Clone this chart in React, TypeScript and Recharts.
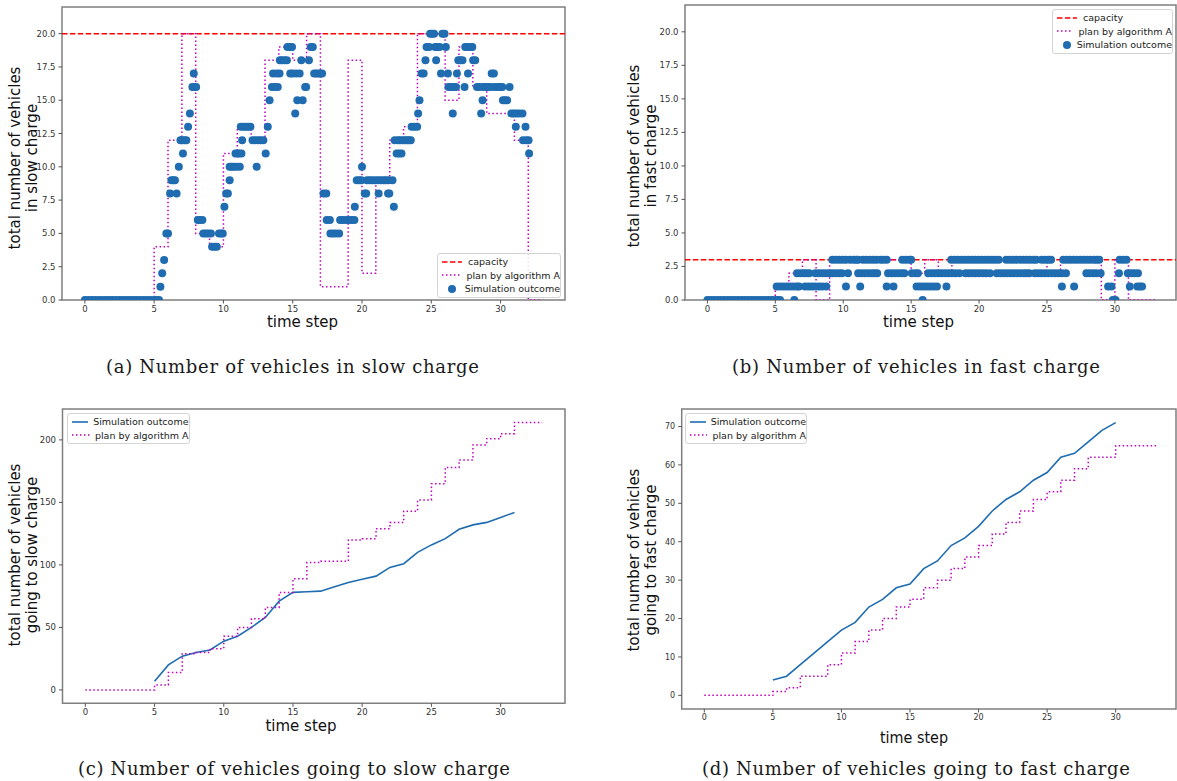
import React from 'react';
import { ComposedChart, Line, Scatter, XAxis, YAxis, ReferenceLine, ReferenceArea, Legend } from 'recharts';

// time axis shared by the four panels
const timeSteps = [0, 1, 2, 3, 4, 5, 6, 7, 8, 9, 10, 11, 12, 13, 14, 15, 16, 17, 18, 19, 20, 21, 22, 23, 24, 25, 26, 27, 28, 29, 30, 31, 32, 33];
const timeTicks = [0, 5, 10, 15, 20, 25, 30];
const loadTicks = [0, 2.5, 5, 7.5, 10, 12.5, 15, 17.5, 20];
const goSlowTicks = [0, 50, 100, 150, 200];
const goFastTicks = [0, 10, 20, 30, 40, 50, 60, 70];

const slowCapacity = 20;
const fastCapacity = 3;

// plan by algorithm A (value held from step t to t+1)
const planSlow = [0, 0, 0, 0, 0, 4, 12, 20, 5, 4, 11, 13, 12, 18, 19, 18, 20, 1, 1, 18, 2, 9, 12, 13, 20, 20, 15, 19, 16, 14, 14, 12, 0, 0];
const planFast = [0, 0, 0, 0, 0, 1, 2, 3, 0, 3, 3, 3, 3, 3, 3, 2, 3, 2, 3, 3, 3, 3, 3, 3, 3, 2, 3, 3, 3, 0, 3, 0, 0, 0];
const planGoSlow = [0, 0, 0, 0, 0, 4, 14, 29, 30, 33, 43, 50, 57, 66, 78, 89, 102, 103, 103, 120, 121, 129, 134, 143, 152, 165, 178, 184, 196, 201, 205, 214, 214, 214];
const planGoFast = [0, 0, 0, 0, 0, 1, 2, 5, 5, 8, 11, 14, 17, 20, 23, 25, 28, 30, 33, 36, 39, 42, 45, 48, 51, 53, 56, 59, 62, 62, 65, 65, 65, 65];

// simulation outcome, cumulative vehicles
const goSlowSimSteps = [5, 6, 7, 8, 9, 10, 11, 12, 13, 14, 15, 16, 17, 18, 19, 20, 21, 22, 23, 24, 25, 26, 27, 28, 29, 30, 31];
const goSlowSim = [7, 20, 27, 30, 32, 39, 43, 50, 58, 71, 78, 78.5, 79, 82.5, 86, 88.5, 91, 98, 101, 110, 116, 121, 128.5, 132, 134, 138, 142];
const goFastSimSteps = [5, 6, 7, 8, 9, 10, 11, 12, 13, 14, 15, 16, 17, 18, 19, 20, 21, 22, 23, 24, 25, 26, 27, 28, 29, 30];
const goFastSim = [4, 5, 8, 11, 14, 17, 19, 23, 25, 28, 29, 33, 35, 39, 41, 44, 48, 51, 53, 56, 58, 62, 63, 66, 69, 71];

// simulation outcome, vehicles in charge [time, count]
const slowSimPoints: [number, number][] = [
  [0, 0], [0.25, 0], [0.5, 0], [0.75, 0], [1, 0], [1.25, 0], [1.5, 0], [1.75, 0], [2, 0], [2.25, 0], [2.5, 0], [2.75, 0],
  [3, 0], [3.25, 0], [3.5, 0], [3.75, 0], [4, 0], [4.25, 0], [4.5, 0], [4.75, 0], [5, 0], [5.2, 0], [5.35, 0],
  [5.45, 1], [5.58, 2], [5.72, 3], [5.88, 5], [6.0, 5],
  [6.15, 8], [6.25, 9], [6.38, 9], [6.5, 9], [6.62, 8], [6.78, 10], [6.9, 12], [7.02, 12], [7.08, 11], [7.18, 12], [7.32, 12],
  [7.45, 13], [7.58, 14], [7.76, 16], [7.86, 17], [7.95, 16], [8.03, 16],
  [8.15, 6], [8.3, 6], [8.48, 6], [8.55, 5], [8.72, 5], [8.9, 5], [9.1, 5], [9.18, 4], [9.35, 4], [9.52, 4], [9.68, 5], [9.85, 5], [9.95, 5],
  [10.07, 7], [10.2, 8], [10.32, 8], [10.45, 9], [10.45, 10], [10.6, 10], [10.75, 10], [10.87, 11], [10.95, 10], [11.02, 11], [11.12, 11],
  [11.18, 10], [11.3, 11], [11.35, 12], [11.25, 13], [11.45, 13], [11.6, 13], [11.78, 13], [11.95, 13], [12.1, 12], [12.28, 12], [12.4, 10],
  [12.5, 12], [12.68, 12], [12.88, 12], [13.05, 11], [13.2, 13], [13.33, 15], [13.5, 16], [13.58, 17], [13.72, 16], [13.85, 17], [13.92, 16],
  [14.05, 17], [14.07, 18], [14.22, 18], [14.4, 18], [14.58, 18], [14.62, 19], [14.78, 19], [14.95, 19], [14.82, 17], [15.0, 17], [15.18, 14],
  [15.25, 17], [15.33, 15], [15.5, 17], [15.62, 18], [15.72, 15], [15.9, 16], [15.97, 16], [16.17, 18], [16.3, 19], [16.45, 19], [16.55, 17],
  [16.7, 17], [16.85, 17], [17.0, 17], [17.12, 17],
  [17.22, 8], [17.42, 8], [17.45, 6], [17.68, 6], [17.72, 5], [17.92, 5], [18.12, 5], [18.35, 5], [18.42, 6], [18.62, 6], [18.85, 6],
  [19.05, 6], [19.25, 6], [19.45, 6], [19.48, 7], [19.62, 9], [19.8, 9], [19.95, 9], [20.0, 10], [20.2, 8], [20.3, 8], [20.36, 9],
  [20.55, 9], [20.75, 9], [20.95, 9], [21.15, 9], [21.2, 8], [21.35, 9], [21.55, 9], [21.72, 9], [21.88, 8], [21.97, 8], [21.9, 9],
  [22.2, 9], [22.3, 7], [22.36, 12], [22.5, 11], [22.6, 12], [22.68, 11], [22.85, 11], [22.75, 12], [22.95, 12], [23.1, 12], [23.25, 12],
  [23.4, 12], [23.52, 12], [23.58, 13], [23.78, 13], [23.98, 13], [24.05, 14], [24.15, 15], [24.3, 17], [24.45, 17], [24.58, 18],
  [24.66, 19], [24.85, 19], [24.92, 20], [25.06, 20], [25.2, 20], [25.28, 19], [25.35, 18], [25.45, 19], [25.6, 19], [25.7, 17],
  [25.8, 20], [25.96, 20], [26.05, 19], [26.2, 17], [26.24, 16], [26.42, 16], [26.55, 14], [26.62, 16], [26.78, 16], [26.85, 17],
  [26.95, 18], [27.1, 18], [27.25, 18], [27.4, 16], [27.45, 19], [27.6, 19], [27.65, 17], [27.8, 19], [27.96, 19], [28.02, 18],
  [28.17, 18], [28.3, 16], [28.48, 16], [28.6, 14], [28.7, 15], [28.76, 16], [28.95, 16], [29.12, 16], [29.3, 16], [29.36, 17],
  [29.52, 17], [29.6, 16], [29.8, 16], [30.0, 16], [30.12, 16], [30.17, 15], [30.32, 15], [30.47, 15], [30.65, 16], [30.78, 14],
  [30.95, 14], [31.1, 13], [31.15, 14], [31.35, 14], [31.58, 14], [31.62, 12], [31.8, 13], [31.86, 12], [32.02, 12], [32.06, 11],
];

const fastSimPoints: [number, number][] = [
  [0, 0], [0.25, 0], [0.5, 0], [0.75, 0], [1, 0], [1.25, 0], [1.5, 0], [1.75, 0], [2, 0], [2.25, 0], [2.5, 0], [2.75, 0],
  [3, 0], [3.25, 0], [3.5, 0], [3.75, 0], [4, 0], [4.25, 0], [4.5, 0], [4.75, 0], [5, 0], [5.2, 0], [5.35, 0],
  [5.1, 1], [5.35, 1], [5.6, 1], [5.85, 1], [6.1, 1], [6.35, 1], [6.6, 1], [6.75, 1], [6.4, 0],
  [6.6, 2], [6.85, 2], [7.1, 2], [7.3, 2], [7.5, 2],
  [7.2, 1], [7.45, 1], [7.7, 1], [7.95, 1], [8.2, 1], [8.45, 1], [8.75, 1],
  [7.95, 2], [8.2, 2], [8.45, 2], [8.7, 2], [8.95, 2], [9.2, 2], [9.45, 2], [9.7, 2], [9.9, 2],
  [9.2, 3], [9.45, 3], [9.7, 3], [9.95, 3], [10.2, 3], [10.5, 3], [10.75, 3], [10.95, 3], [11.1, 3],
  [10.2, 1], [10.35, 2], [11.25, 1],
  [11.1, 2], [11.35, 2], [11.6, 2], [11.85, 2], [12.1, 2], [12.3, 2], [12.5, 2],
  [11.45, 3], [11.7, 3], [11.95, 3], [12.2, 3], [12.45, 3], [12.75, 3], [12.95, 3], [13.2, 3],
  [13.2, 1], [13.7, 1],
  [13.3, 2], [13.55, 2], [13.8, 2], [14.05, 2], [14.3, 2], [14.5, 2],
  [14.35, 3], [14.6, 3], [14.85, 3], [15.0, 3],
  [15.05, 2], [15.3, 2], [15.5, 2],
  [15.4, 1], [15.65, 1], [15.9, 1], [16.15, 1], [16.4, 1], [16.65, 1], [16.9, 1], [15.85, 0],
  [16.25, 2], [16.5, 2], [16.75, 2], [17.0, 2], [17.25, 2], [17.5, 2], [17.75, 2], [18.0, 2], [18.25, 2], [18.55, 2],
  [17.6, 1],
  [17.95, 3], [18.2, 3], [18.45, 3], [18.7, 3], [18.95, 3], [19.2, 3], [19.45, 3], [19.7, 3], [19.95, 3], [20.2, 3],
  [20.45, 3], [20.7, 3], [20.95, 3], [21.2, 3], [21.45, 3],
  [19.0, 2], [19.25, 2], [19.5, 2], [19.75, 2], [20.0, 2], [20.25, 2], [20.5, 2], [20.8, 2],
  [21.3, 2], [21.55, 2], [21.8, 2], [22.05, 2], [22.3, 2], [22.55, 2], [22.8, 2], [23.05, 2], [23.3, 2], [23.5, 2], [23.7, 2],
  [22.0, 3], [22.25, 3], [22.5, 3], [22.75, 3], [23.0, 3], [23.25, 3], [23.5, 3], [23.75, 3], [24.0, 3], [24.2, 3],
  [24.1, 2], [24.35, 2], [24.6, 2], [24.85, 2], [25.1, 2], [25.35, 2], [25.6, 2], [25.85, 2], [26.1, 2], [26.4, 2],
  [24.6, 3], [24.85, 3], [25.1, 3], [25.3, 3],
  [26.1, 1], [27.0, 1],
  [26.2, 3], [26.45, 3], [26.7, 3], [26.95, 3], [27.2, 3], [27.45, 3], [27.7, 3], [27.95, 3], [28.2, 3], [28.45, 3], [28.65, 3], [28.85, 3],
  [27.9, 2], [28.15, 2], [28.4, 2], [28.65, 2], [28.95, 2],
  [29.5, 1], [29.75, 1], [29.85, 0], [30.05, 0],
  [30.3, 2], [30.35, 3], [30.6, 3], [30.85, 3],
  [30.95, 2], [31.2, 2], [31.45, 2], [31.7, 2],
  [31.1, 1], [31.65, 1], [31.85, 1], [32.0, 1],
];

const BLUE = '#1f6cb0';
const MAGENTA = '#bf00bf';
const RED = '#ff0000';
const FRAME = '#7f7f7f';
const FONT = '"DejaVu Sans", sans-serif';

const series = (ts: number[], vs: number[]) => ts.map((t, i) => ({ t, v: vs[i] }));
const points = (ps: [number, number][]) => ps.map(([t, v]) => ({ t, v }));

const tickStyle = { fontSize: 8.5, fill: '#333', fontFamily: FONT };
const dot = (p: any) => <circle cx={p.cx} cy={p.cy} r={4} fill={BLUE} />;

type Row = { label: string; kind: 'cap' | 'plan' | 'dot' | 'line' };

const Marker = ({ kind }: { kind: Row['kind'] }) => {
  if (kind === 'dot') return <circle cx={11} cy={5} r={4} fill={BLUE} />;
  if (kind === 'cap') return <line x1={1} x2={21} y1={5} y2={5} stroke={RED} strokeWidth={1.5} strokeDasharray="5.5 2.4" />;
  if (kind === 'plan') return <line x1={1} x2={21} y1={5} y2={5} stroke={MAGENTA} strokeWidth={1.5} strokeDasharray="1.5 2.5" />;
  return <line x1={1} x2={21} y1={5} y2={5} stroke={BLUE} strokeWidth={1.6} />;
};

const LegendBox = ({ rows, width }: { rows: Row[]; width: number }) => (
  <div
    style={{
      width,
      boxSizing: 'border-box',
      border: '1px solid #d4d4d4',
      borderRadius: 3,
      background: 'rgba(255,255,255,0.85)',
      padding: '1px 0 1px 3px',
      fontFamily: FONT,
      fontSize: 9.5,
      color: '#222',
    }}
  >
    {rows.map((r) => (
      <div key={r.label} style={{ display: 'flex', alignItems: 'center', height: 13.5 }}>
        <svg width={22} height={10}>
          <Marker kind={r.kind} />
        </svg>
        <span style={{ marginLeft: 5, whiteSpace: 'nowrap' }}>{r.label}</span>
      </div>
    ))}
  </div>
);

const chargeRows: Row[] = [
  { label: 'capacity', kind: 'cap' },
  { label: 'plan by algorithm A', kind: 'plan' },
  { label: 'Simulation outcome', kind: 'dot' },
];
const goingRows: Row[] = [
  { label: 'Simulation outcome', kind: 'line' },
  { label: 'plan by algorithm A', kind: 'plan' },
];

const Frame = ({ x, y }: { x: number[]; y: number[] }) => (
  <ReferenceArea x1={x[0]} x2={x[1]} y1={y[0]} y2={y[1]} fill="none" stroke={FRAME} strokeWidth={1.5} ifOverflow="visible" />
);

const App = () => {
  const slowPlan = series(timeSteps, planSlow);
  const fastPlan = series(timeSteps, planFast);
  const goSlowPlan = series(timeSteps, planGoSlow);
  const goFastPlan = series(timeSteps, planGoFast);
  const goSlowOut = series(goSlowSimSteps, goSlowSim);
  const goFastOut = series(goFastSimSteps, goFastSim);

  const xA = [-1.65, 34.65];
  const xB = [-1.65, 34.5];
  const xD = [-1.65, 34.4];
  const yLoad = [0, 22];
  const yGoSlow = [-10.7, 224.7];
  const yGoFast = [-3.55, 74.55];

  const xAxisProps = {
    type: 'number' as const,
    dataKey: 't',
    ticks: timeTicks,
    allowDataOverflow: true,
    tickSize: 3.5,
    tickMargin: 2,
    axisLine: false,
    tickLine: { stroke: '#555' },
    tick: tickStyle,
    interval: 0 as const,
  };
  const yAxisProps = {
    type: 'number' as const,
    allowDataOverflow: true,
    tickSize: 3.5,
    tickMargin: 3,
    axisLine: false,
    tickLine: { stroke: '#555' },
    tick: tickStyle,
    interval: 0 as const,
  };

  return (
    <div style={{ position: 'absolute', left: 0, top: 0, width: 1177, height: 781, background: '#fff', overflow: 'hidden', fontFamily: FONT }}>
      {/* (a) vehicles in slow charge */}
      <div style={{ position: 'absolute', left: 0, top: 0 }}>
        <ComposedChart width={590} height={340} margin={{ top: 7, right: 25, bottom: 0, left: 0 }}>
          <XAxis {...xAxisProps} domain={xA} height={40} />
          <YAxis {...yAxisProps} domain={yLoad} ticks={loadTicks} width={62} tickFormatter={(v: number) => v.toFixed(1)} />
          <ReferenceLine y={slowCapacity} stroke={RED} strokeWidth={1.5} strokeDasharray="5.5 2.4" />
          <Line data={slowPlan} dataKey="v" type="stepAfter" stroke={MAGENTA} strokeWidth={1.5} strokeDasharray="1.5 2.5" dot={false} isAnimationActive={false} />
          <Scatter data={points(slowSimPoints)} dataKey="v" shape={dot} isAnimationActive={false} />
          <Frame x={xA} y={yLoad} />
          <Legend verticalAlign="middle" align="center" layout="horizontal" wrapperStyle={{ left: 437, top: 253 }} content={() => <LegendBox rows={chargeRows} width={124} />} />
        </ComposedChart>
      </div>

      {/* (b) vehicles in fast charge */}
      <div style={{ position: 'absolute', left: 620, top: 0 }}>
        <ComposedChart width={557} height={340} margin={{ top: 5, right: 1, bottom: 0, left: 0 }}>
          <XAxis {...xAxisProps} domain={xB} height={40} />
          <YAxis {...yAxisProps} domain={yLoad} ticks={loadTicks} width={65} tickFormatter={(v: number) => v.toFixed(1)} />
          <ReferenceLine y={fastCapacity} stroke={RED} strokeWidth={1.5} strokeDasharray="5.5 2.4" />
          <Line data={fastPlan} dataKey="v" type="stepAfter" stroke={MAGENTA} strokeWidth={1.5} strokeDasharray="1.5 2.5" dot={false} isAnimationActive={false} />
          <Scatter data={points(fastSimPoints)} dataKey="v" shape={dot} isAnimationActive={false} />
          <Frame x={xB} y={yLoad} />
          <Legend verticalAlign="middle" align="center" layout="horizontal" wrapperStyle={{ left: 432, top: 9 }} content={() => <LegendBox rows={chargeRows} width={121} />} />
        </ComposedChart>
      </div>

      {/* (c) vehicles going to slow charge */}
      <div style={{ position: 'absolute', left: 0, top: 400 }}>
        <ComposedChart width={590} height={350} margin={{ top: 9, right: 25, bottom: 0, left: 0 }}>
          <XAxis {...xAxisProps} domain={xA} height={46.7} />
          <YAxis {...yAxisProps} domain={yGoSlow} ticks={goSlowTicks} width={62.5} />
          <Line data={goSlowOut} dataKey="v" type="linear" stroke={BLUE} strokeWidth={1.6} dot={false} isAnimationActive={false} />
          <Line data={goSlowPlan} dataKey="v" type="stepAfter" stroke={MAGENTA} strokeWidth={1.5} strokeDasharray="1.5 2.5" dot={false} isAnimationActive={false} />
          <Frame x={xA} y={yGoSlow} />
          <Legend verticalAlign="middle" align="center" layout="horizontal" wrapperStyle={{ left: 66.5, top: 13 }} content={() => <LegendBox rows={goingRows} width={123} />} />
        </ComposedChart>
      </div>

      {/* (d) vehicles going to fast charge */}
      <div style={{ position: 'absolute', left: 620, top: 400 }}>
        <ComposedChart width={557} height={360} margin={{ top: 9, right: 1, bottom: 0, left: 0 }}>
          <XAxis {...xAxisProps} domain={xD} height={51} tick={{ ...tickStyle, fontSize: 8 }} />
          <YAxis {...yAxisProps} domain={yGoFast} ticks={goFastTicks} width={61.7} tick={{ ...tickStyle, fontSize: 8 }} />
          <Line data={goFastOut} dataKey="v" type="linear" stroke={BLUE} strokeWidth={1.6} dot={false} isAnimationActive={false} />
          <Line data={goFastPlan} dataKey="v" type="stepAfter" stroke={MAGENTA} strokeWidth={1.5} strokeDasharray="1.5 2.5" dot={false} isAnimationActive={false} />
          <Frame x={xD} y={yGoFast} />
          <Legend verticalAlign="middle" align="center" layout="horizontal" wrapperStyle={{ left: 65, top: 13 }} content={() => <LegendBox rows={goingRows} width={122} />} />
        </ComposedChart>
      </div>

      {/* axis titles and sub-captions */}
      <svg width={1177} height={781} style={{ position: 'absolute', left: 0, top: 0, pointerEvents: 'none' }}>
        <g fontFamily={FONT} fontSize={15} fill="#111" textAnchor="middle">
          <text transform="translate(20,158) rotate(-90)">total number of vehicles</text>
          <text transform="translate(36.5,158) rotate(-90)">in slow charge</text>
          <text transform="translate(639,156) rotate(-90)">total number of vehicles</text>
          <text transform="translate(656,156) rotate(-90)">in fast charge</text>
          <text transform="translate(20,555) rotate(-90)">total number of vehicles</text>
          <text transform="translate(37,555) rotate(-90)">going to slow charge</text>
          <text transform="translate(639,560) rotate(-90)">total number of vehicles</text>
          <text transform="translate(656,560) rotate(-90)">going to fast charge</text>

          <text x={302.5} y={327}>time step</text>
          <text x={918.5} y={327}>time step</text>
          <text x={301} y={731}>time step</text>
          <text x={914} y={743} textLength={68} lengthAdjust="spacingAndGlyphs">time step</text>
        </g>
        <g fontFamily='"DejaVu Serif", serif' fontSize={18} fill="#1a1a1a" textAnchor="middle">
          <text x={292.5} y={372.5} textLength={373}>(a) Number of vehicles in slow charge</text>
          <text x={916} y={372.5} textLength={368}>(b) Number of vehicles in fast charge</text>
          <text x={294} y={775} textLength={432}>(c) Number of vehicles going to slow charge</text>
          <text x={916} y={775} textLength={428}>(d) Number of vehicles going to fast charge</text>
        </g>
      </svg>
    </div>
  );
};

export default App;
